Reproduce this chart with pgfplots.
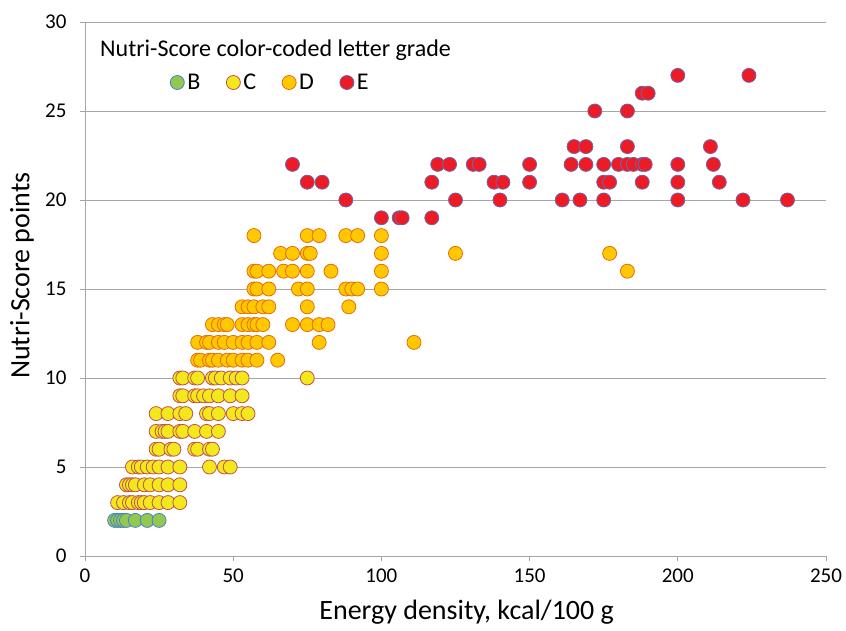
\documentclass[border=0pt]{standalone}
\usepackage{pgfplots}
\pgfplotsset{compat=1.18}
\usepackage{fontspec}
\setmainfont{Carlito}
\definecolor{gridgray}{RGB}{166,166,166}
\definecolor{Bfill}{RGB}{146,200,80}
\definecolor{Bedge}{RGB}{70,130,200}
\definecolor{Cfill}{RGB}{242,232,28}
\definecolor{Cedge}{RGB}{192,80,77}
\definecolor{Dfill}{RGB}{255,200,0}
\definecolor{Dedge}{RGB}{228,108,10}
\definecolor{Efill}{RGB}{237,28,36}
\definecolor{Eedge}{RGB}{112,100,170}
\begin{document}
\begin{tikzpicture}
\useasboundingbox (-85pt,-75pt) rectangle (761pt,556pt);
\begin{axis}[
  at={(0pt,0pt)}, anchor=south west,
  scale only axis, width=741pt, height=534pt,
  xmin=0, xmax=250, ymin=0, ymax=30,
  xtick={0,50,...,250}, ytick={0,5,...,30},
  axis x line*=bottom, axis y line*=left,
  axis line style={gridgray, line width=0.9pt, -},
  ymajorgrids, grid style={gridgray, line width=0.9pt},
  tick align=outside, major tick length=5pt,
  tick style={gridgray, line width=0.9pt},
  /pgf/number format/assume math mode=true,
  ticklabel style={font=\fontsize{21}{24}\selectfont},
  xticklabel style={yshift=-4pt},
  yticklabel style={xshift=-10pt},
  xlabel={Energy density, kcal/100 g},
  ylabel={Nutri-Score points},
  label style={font=\fontsize{28}{32}\selectfont},
  xlabel style={at={(axis description cs:0.515,-0.105)}, anchor=center},
  ylabel style={at={(axis description cs:-0.085,0.525)}, anchor=center},
  clip=false,
  legend columns=4,
  legend style={draw=none, fill=none, at={(axis cs:27.7,26.6)}, anchor=west,
    font=\fontsize{24}{27}\selectfont,
    /tikz/every odd column/.append style={column sep=1pt},
    /tikz/every even column/.append style={column sep=24pt}},
  legend image code/.code={\draw[#1] plot coordinates {(0pt,0pt)};},
]
\addplot[only marks, mark=*, mark size=7pt, mark options={fill=Bfill, draw=Bedge, line width=0.8pt}] coordinates {
(10,2)(11,2)(12,2)(13,2)(14,2)(17,2)(21,2)(25,2)};
\addlegendentry{B}
\addplot[only marks, mark=*, mark size=7pt, mark options={fill=Cfill, draw=Cedge, line width=0.8pt}] coordinates {
(11,3)(13,3)(15,3)(16,3)(18,3)(19,3)(20,3)(22,3)(25,3)(28,3)(32,3)
(14,4)(15,4)(16,4)(17,4)(20,4)(22,4)(25,4)(28,4)(32,4)
(16,5)(18,5)(19,5)(21,5)(23,5)(25,5)(28,5)(32,5)(42,5)(47,5)(49,5)
(24,6)(25,6)(29,6)(30,6)(37,6)(38,6)(42,6)(43,6)
(24,7)(26,7)(27,7)(28,7)(32,7)(33,7)(37,7)(41,7)(45,7)
(24,8)(28,8)(32,8)(34,8)(41,8)(42,8)(45,8)(50,8)(53,8)(55,8)
(32,9)(33,9)(37,9)(38,9)(40,9)(42,9)(45,9)(49,9)(53,9)
(32,10)(33,10)(37,10)(38,10)(43,10)(44,10)(46,10)(49,10)(51,10)(53,10)(75,10)};
\addlegendentry{C}
\addplot[only marks, mark=*, mark size=7pt, mark options={fill=Dfill, draw=Dedge, line width=0.8pt}] coordinates {
(38,11)(39,11)(42,11)(43,11)(45,11)(48,11)(50,11)(53,11)(55,11)(58,11)(65,11)
(38,12)(41,12)(42,12)(45,12)(47,12)(50,12)(53,12)(55,12)(58,12)(62,12)(79,12)(111,12)
(43,13)(45,13)(47,13)(48,13)(53,13)(55,13)(57,13)(58,13)(60,13)(70,13)(75,13)(79,13)(82,13)
(53,14)(55,14)(57,14)(60,14)(62,14)(75,14)(89,14)
(57,15)(58,15)(62,15)(72,15)(75,15)(88,15)(90,15)(92,15)(100,15)
(57,16)(58,16)(62,16)(67,16)(70,16)(75,16)(83,16)(100,16)(183,16)
(66,17)(70,17)(75,17)(76,17)(100,17)(125,17)(177,17)
(57,18)(75,18)(79,18)(88,18)(92,18)(100,18)};
\addlegendentry{D}
\addplot[only marks, mark=*, mark size=7pt, mark options={fill=Efill, draw=Eedge, line width=0.8pt}] coordinates {
(200,27)(224,27)
(188,26)(190,26)
(172,25)(183,25)
(165,23)(169,23)(183,23)(211,23)
(70,22)(119,22)(123,22)(131,22)(133,22)(150,22)(164,22)(169,22)(175,22)(180,22)(183,22)(185,22)(188,22)(189,22)(200,22)(212,22)
(75,21)(80,21)(117,21)(138,21)(141,21)(150,21)(175,21)(177,21)(188,21)(200,21)(214,21)
(88,20)(125,20)(140,20)(161,20)(167,20)(175,20)(200,20)(222,20)(237,20)
(100,19)(106,19)(107,19)(117,19)};
\addlegendentry{E}
\node[anchor=west, inner sep=0pt, font=\fontsize{24}{27}\selectfont] at (axis cs:5.06,28.4) {Nutri-Score color-coded letter grade};
\end{axis}
\end{tikzpicture}
\end{document}
